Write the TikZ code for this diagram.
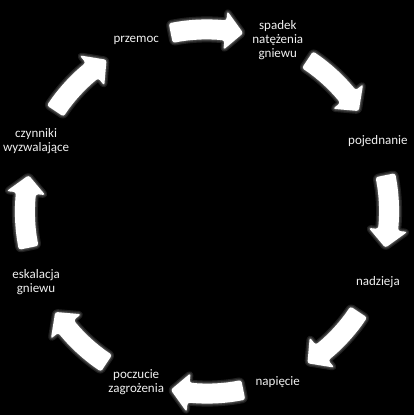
\documentclass[tikz,border=0pt]{standalone}
\usepackage{fontspec}
\setmainfont{Carlito}
\usepackage{tikz}
\begin{document}
\begin{tikzpicture}[x=1pt,y=1pt,
  lbl/.style={text=white!94!black,align=center,inner sep=0pt,font=\fontsize{13}{14}\selectfont},
  blk/.style={fill=white,rounded corners=2.5pt},
  glow/.style={draw=white,line join=round,rounded corners=2.5pt,opacity=0.12,line width=#1}]
\fill[black] (-207,-203.5) rectangle (207,211.5);
\coordinate (c) at (0,0);
\node[lbl] (przemoc) at (112.5:185) {przemoc};\node[lbl] (spadek) at (67.5:185) {spadek\\ natężenia\\ gniewu};\node[lbl] (pojednanie) at (22.5:185) {pojednanie};\node[lbl] (nadzieja) at (-22.5:185) {nadzieja};
\node[lbl] (napiecie) at (-67.5:185) {napięcie};\node[lbl] (poczucie) at (-112.5:185) {poczucie\\ zagrożenia};\node[lbl] (eskalacja) at (-157.5:185) {eskalacja\\ gniewu};\node[lbl] (czynniki) at (157.5:185) {czynniki\\ wyzwalające};
% block arrows, clockwise
\foreach \a in {0,-45,...,-315}{\begin{scope}[rotate=\a]
\foreach \w in {6,3.5,1.5}{\draw[glow=\w pt] (101.5:192) arc[start angle=101.5,end angle=84.2,radius=192] -- (84.2:201.5) -- (78.5:182) -- (84.2:162.5) -- (84.2:172) arc[start angle=84.2,end angle=101.5,radius=172] -- cycle;}
\fill[blk] (101.5:192) arc[start angle=101.5,end angle=84.2,radius=192] -- (84.2:201.5) -- (78.5:182) -- (84.2:162.5) -- (84.2:172) arc[start angle=84.2,end angle=101.5,radius=172] -- cycle;
\end{scope}}
\end{tikzpicture}
\end{document}
